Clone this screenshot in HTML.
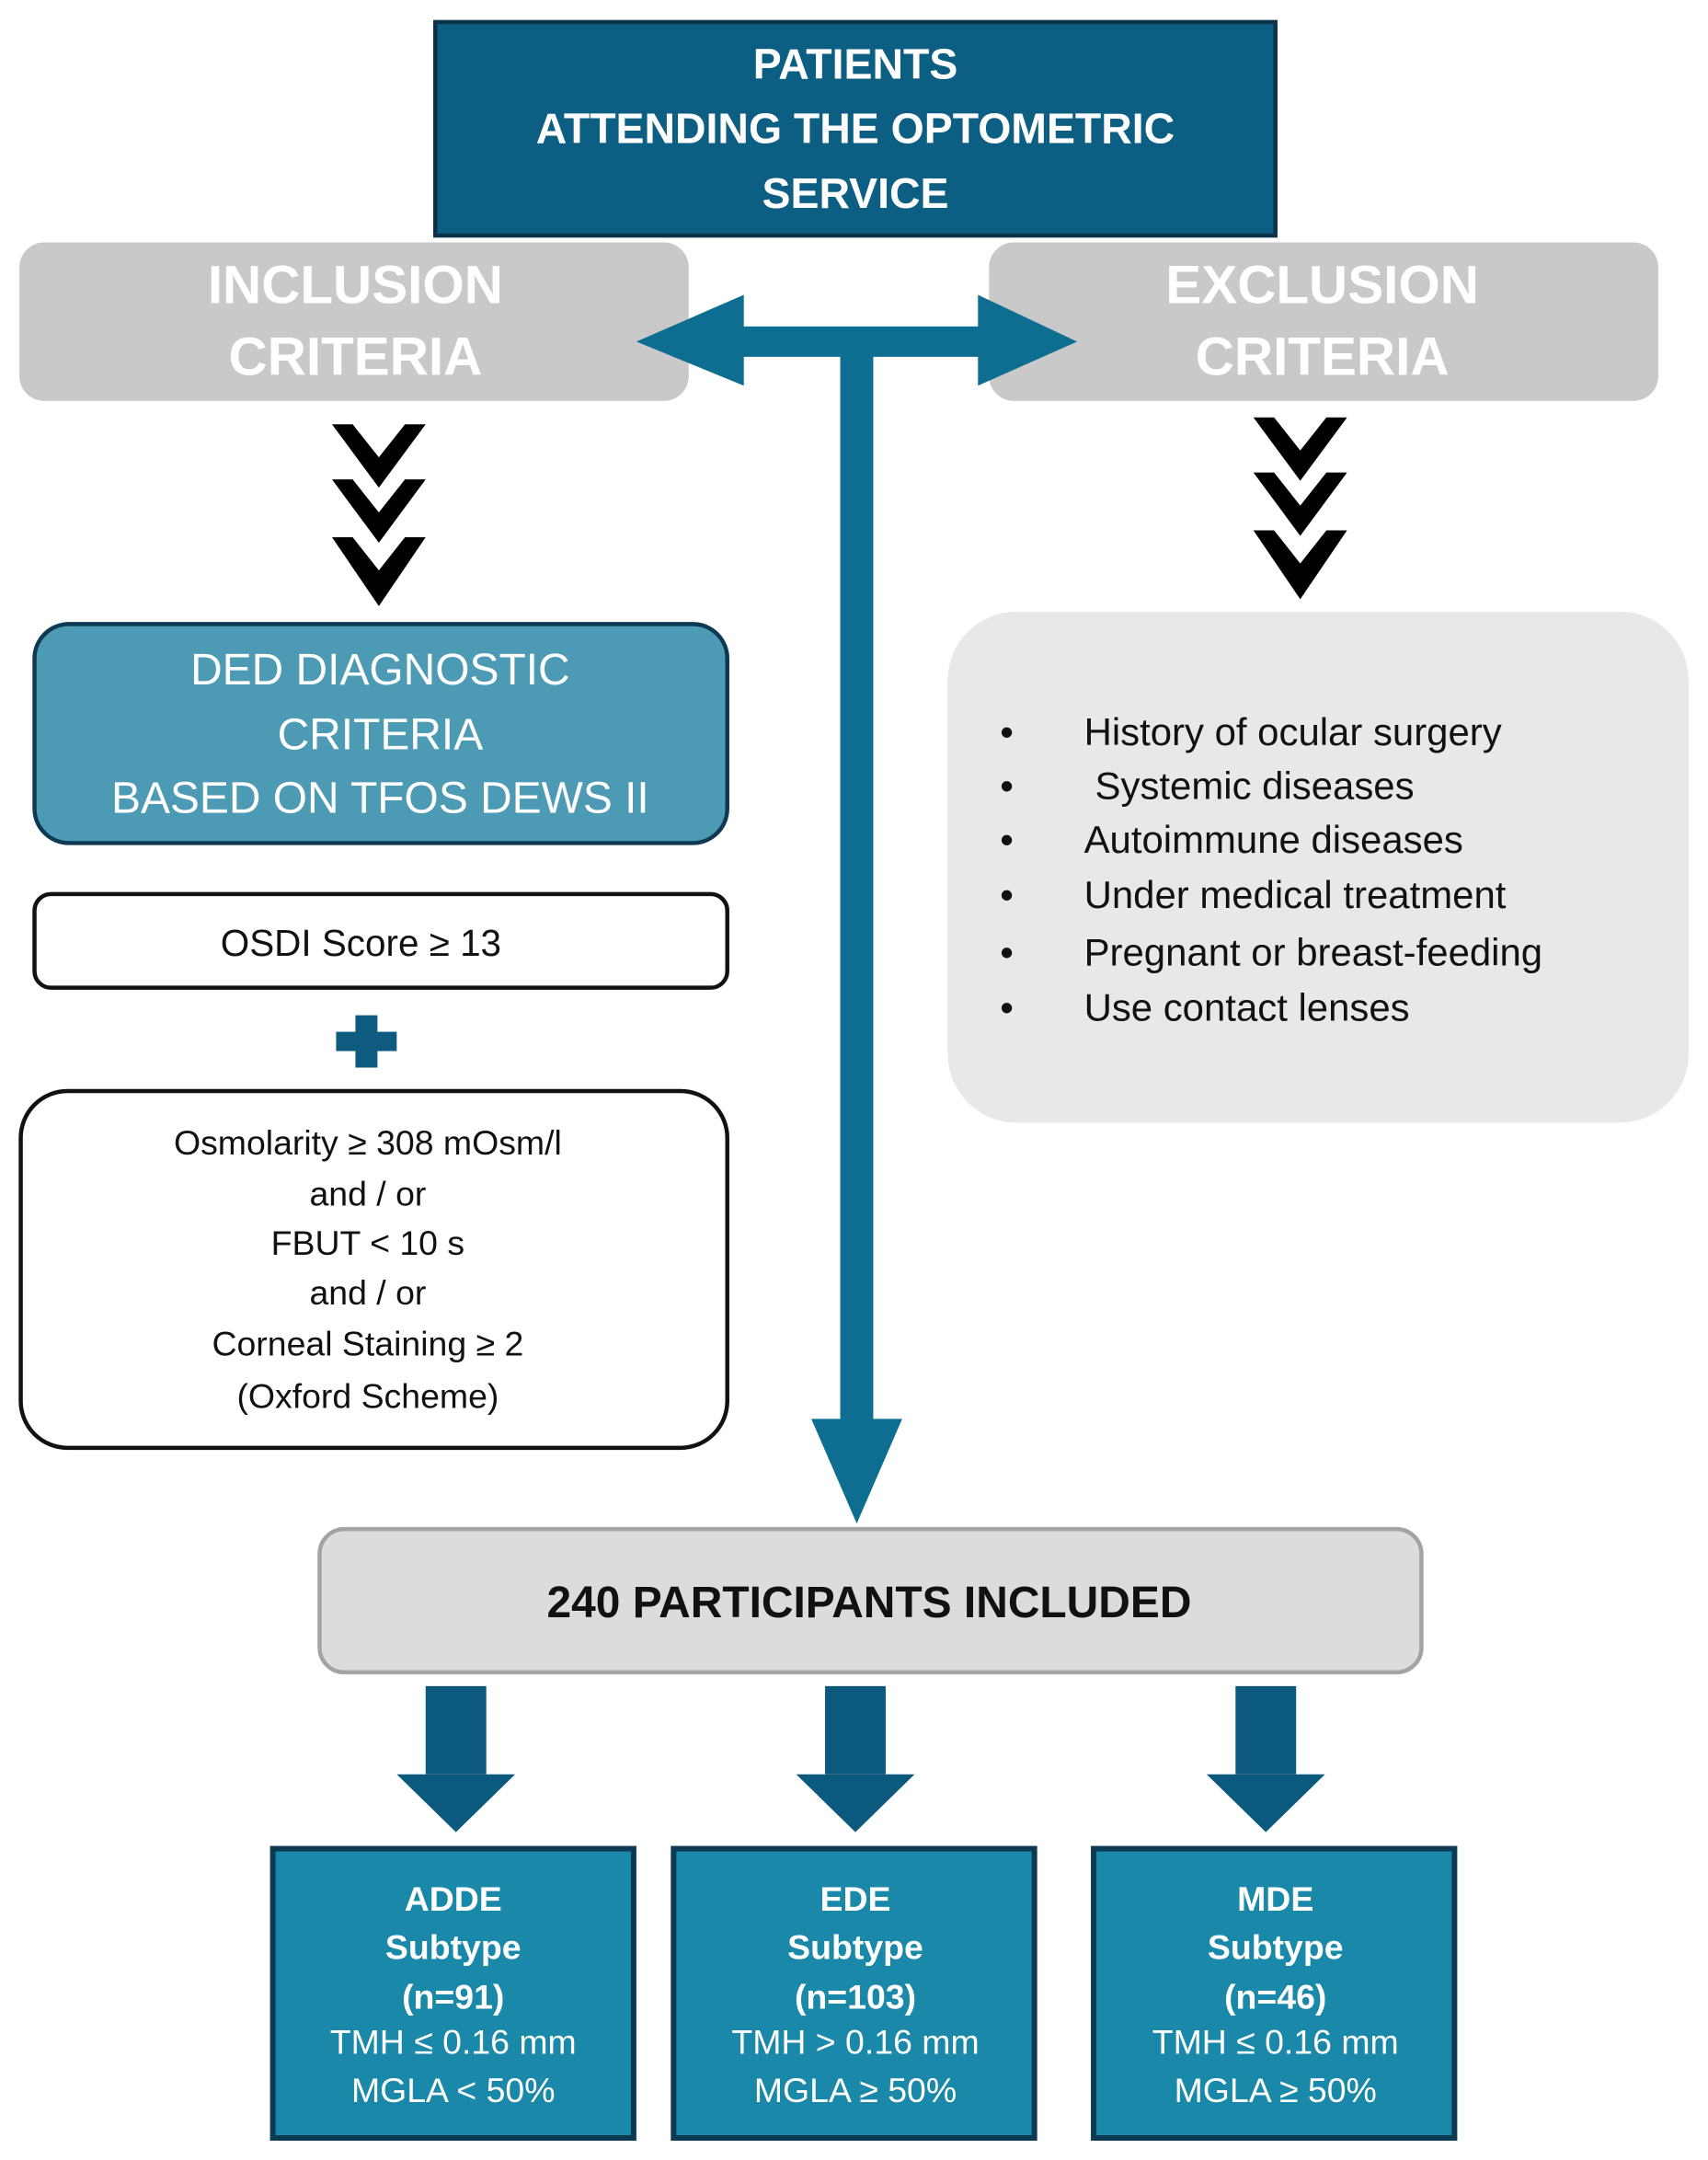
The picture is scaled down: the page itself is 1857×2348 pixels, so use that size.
<!DOCTYPE html>
<html><head><meta charset="utf-8"><style>html,body{margin:0;padding:0;background:#fff}svg{display:block}</style></head>
<body>
<svg width="1857" height="2348" viewBox="0 0 1240 1568" xmlns="http://www.w3.org/2000/svg" font-family="Liberation Sans, sans-serif">
<rect width="1240" height="1568" fill="#fff"/>
<!-- top box -->
<rect x="316" y="16" width="610" height="155" fill="#0c5e83" stroke="#0a334a" stroke-width="3"/>
<g fill="#fff" font-weight="bold" font-size="31" text-anchor="middle">
<text x="621" y="57">PATIENTS</text>
<text x="621" y="104">ATTENDING THE OPTOMETRIC</text>
<text x="621" y="151">SERVICE</text>
</g>
<!-- inclusion / exclusion -->
<rect x="14" y="176" width="486" height="115" rx="18" fill="#c9c9c9"/>
<rect x="718" y="176" width="486" height="115" rx="18" fill="#c9c9c9"/>
<g fill="#fff" font-weight="bold" font-size="39" text-anchor="middle">
<text x="258" y="220">INCLUSION</text>
<text x="258" y="272">CRITERIA</text>
<text x="960" y="220">EXCLUSION</text>
<text x="960" y="272">CRITERIA</text>
</g>
<!-- double arrow + stem -->
<g fill="#0d6e92">
<polygon points="462,248 540,214 540,237 710,237 710,214 782,248 710,280 710,259 540,259 540,280"/>
<rect x="610" y="248" width="24" height="785"/>
<polygon points="589,1030 655,1030 622,1106"/>
</g>
<!-- chevrons -->
<g fill="#000">
<g id="ch">
<polygon points="241,308 256,308 275,332 294,308 309,308 275,354"/>
<polygon points="241,348 256,348 275,372 294,348 309,348 275,394"/>
<polygon points="241,390 256,390 275,414 294,390 309,390 275,440"/>
</g>
<use href="#ch" transform="translate(669,-5)"/>
</g>
<!-- DED box -->
<rect x="25" y="453" width="503" height="159" rx="25" fill="#4d9ab5" stroke="#0d3a52" stroke-width="3"/>
<g fill="#fff" font-size="32" text-anchor="middle">
<text x="276" y="497">DED DIAGNOSTIC</text>
<text x="276" y="544">CRITERIA</text>
<text x="276" y="590">BASED ON TFOS DEWS II</text>
</g>
<!-- OSDI -->
<rect x="25" y="649" width="503" height="68" rx="12" fill="#fff" stroke="#111" stroke-width="3"/>
<text x="262" y="694" font-size="27" text-anchor="middle" fill="#111">OSDI Score ≥ 13</text>
<!-- plus -->
<g fill="#0f5b7f">
<rect x="258" y="737" width="16" height="38"/>
<rect x="244" y="749" width="44" height="14"/>
</g>
<!-- osmolarity -->
<rect x="15" y="792" width="513" height="259" rx="34" fill="#fff" stroke="#111" stroke-width="3"/>
<g font-size="25" text-anchor="middle" fill="#111">
<text x="267" y="838">Osmolarity ≥ 308 mOsm/l</text>
<text x="267" y="875">and / or</text>
<text x="267" y="911">FBUT &lt; 10 s</text>
<text x="267" y="947">and / or</text>
<text x="267" y="984">Corneal Staining ≥ 2</text>
<text x="267" y="1022">(Oxford Scheme)</text>
</g>
<!-- exclusion list -->
<rect x="688" y="444" width="538" height="371" rx="50" fill="#e8e8e8"/>
<g font-size="28" fill="#111">
<text x="726" y="541">•</text><text x="787" y="541">History of ocular surgery</text>
<text x="726" y="580">•</text><text x="795" y="580">Systemic diseases</text>
<text x="726" y="619">•</text><text x="787" y="619">Autoimmune diseases</text>
<text x="726" y="659">•</text><text x="787" y="659">Under medical treatment</text>
<text x="726" y="701">•</text><text x="787" y="701">Pregnant or breast-feeding</text>
<text x="726" y="741">•</text><text x="787" y="741">Use contact lenses</text>
</g>
<!-- 240 box -->
<rect x="232" y="1110" width="800" height="104" rx="18" fill="#dcdcdc" stroke="#a3a3a3" stroke-width="3"/>
<text x="631" y="1174" font-size="32" font-weight="bold" text-anchor="middle" fill="#111">240 PARTICIPANTS INCLUDED</text>
<!-- small arrows -->
<g fill="#0b5a7e">
<g id="sa"><rect x="309" y="1224" width="44" height="64"/><polygon points="288,1288 374,1288 331,1330"/></g>
<use href="#sa" transform="translate(290,0)"/>
<use href="#sa" transform="translate(588,0)"/>
</g>
<!-- bottom boxes -->
<g fill="#1a88a8" stroke="#0c3a52" stroke-width="4">
<rect x="198" y="1342" width="262" height="210"/>
<rect x="489" y="1342" width="262" height="210"/>
<rect x="794" y="1342" width="262" height="210"/>
</g>
<g fill="#fff" font-size="25" text-anchor="middle">
<g font-weight="bold">
<text x="329" y="1387">ADDE</text><text x="329" y="1422">Subtype</text><text x="329" y="1458">(n=91)</text>
<text x="621" y="1387">EDE</text><text x="621" y="1422">Subtype</text><text x="621" y="1458">(n=103)</text>
<text x="926" y="1387">MDE</text><text x="926" y="1422">Subtype</text><text x="926" y="1458">(n=46)</text>
</g>
<text x="329" y="1491">TMH ≤ 0.16 mm</text><text x="329" y="1526">MGLA &lt; 50%</text>
<text x="621" y="1491">TMH &gt; 0.16 mm</text><text x="621" y="1526">MGLA ≥ 50%</text>
<text x="926" y="1491">TMH ≤ 0.16 mm</text><text x="926" y="1526">MGLA ≥ 50%</text>
</g>
</svg>
</body></html>
